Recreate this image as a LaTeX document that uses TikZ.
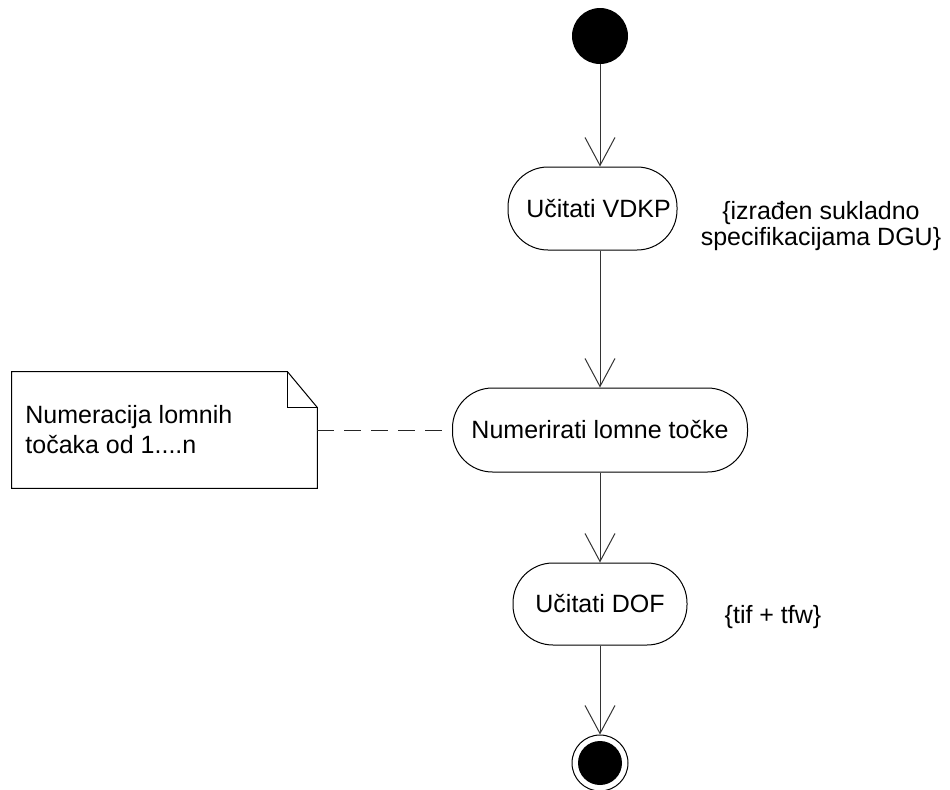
\documentclass[tikz,border=0pt]{standalone}
\usepackage{fontspec}
\setmainfont{Liberation Sans}
\usetikzlibrary{arrows.meta}

\tikzset{
  actbox/.style={draw=black, line width=0.5pt, rounded corners=20pt, inner sep=0pt,
    font=\fontsize{12.5pt}{15pt}\selectfont},
  flow/.style={draw=black!80, line width=0.5pt,
    -{Straight Barb[length=14pt,width=15pt]}},
  anchorline/.style={draw=black!85, line width=0.5pt, dash pattern=on 8.5pt off 5pt},
  txt/.style={font=\fontsize{12.5pt}{15pt}\selectfont, inner sep=0pt},
  initnode/.style={circle, fill=black, minimum size=28pt, inner sep=0pt},
  finalnode/.style={circle, draw=black, line width=0.5pt, minimum size=28pt, inner sep=0pt,
    path picture={\fill[black] (path picture bounding box.center) circle (11pt);}},
}

\begin{document}
\begin{tikzpicture}[x=0.5pt, y=-0.5pt]
  \useasboundingbox (0,0) rectangle (950,789);

  % start and end
  \node[initnode] (start) at (600,36) {};
  \node[finalnode] (stop) at (600,763) {};

  % actions
  \node[actbox, minimum width=84.5pt, minimum height=41.5pt,
        label={[txt, xshift=3pt]center:Učitati VDKP}] (load) at (592.5,208.5) {};
  \node[actbox, minimum width=147.5pt, minimum height=42pt] (number) at (600,430)
        {Numerirati lomne točke};
  \node[actbox, minimum width=87pt, minimum height=41pt] (dof) at (600,604)
        {Učitati DOF};

  % constraints
  \node[txt, align=center, font=\fontsize{12.5pt}{13pt}\selectfont] (spec) at (821,226)
        {\{izrađen sukladno\\specifikacijama DGU\}};
  \node[txt] (fmt) at (773,617) {\{tif + tfw\}};

  % note with folded corner
  \node[minimum width=152.5pt, minimum height=58pt, inner sep=0pt] (note) at (164.5,430) {};
  \coordinate (foldtop) at ([xshift=-15pt]note.north east);
  \coordinate (foldside) at ([yshift=-18pt]note.north east);
  \draw[line width=0.5pt] (note.south west) -- (note.north west) -- (foldtop)
        -- (foldside) -- (note.south east) -- cycle;
  \draw[line width=0.5pt] (foldtop) -- (foldtop |- foldside) -- (foldside);
  \node[txt, align=left, anchor=west, font=\fontsize{12.5pt}{15pt}\selectfont]
        (notetext) at (25,430) {Numeracija lomnih\\točaka od 1....n};

  % connectors
  \draw[flow] (start) -- (start |- load.north);
  \draw[flow] (start |- load.south) -- (number);
  \draw[flow] (number) -- (dof);
  \draw[flow] (dof) -- (stop);
  \draw[anchorline] (note.east |- number.west) -- (number.west);
\end{tikzpicture}
\end{document}
